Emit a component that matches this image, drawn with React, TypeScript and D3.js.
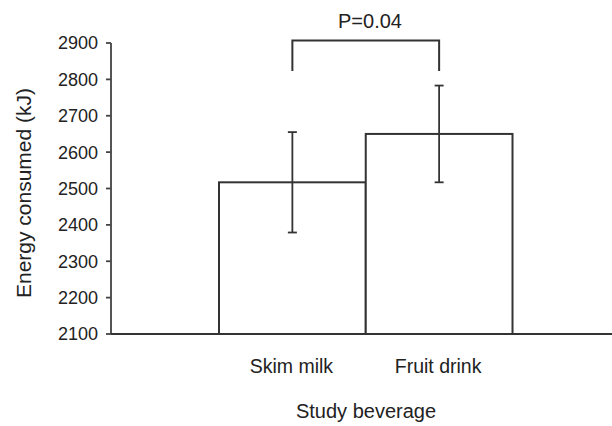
import React from "react";
import * as d3 from "d3";

const categories = ["Skim milk", "Fruit drink"];
const means = [2517, 2650];
const errors = [138, 133];
const yTicks = [2100, 2200, 2300, 2400, 2500, 2600, 2700, 2800, 2900];
const pLabel = "P=0.04";
const xTitle = "Study beverage";
const yTitle = "Energy consumed (kJ)";

const W = 612;
const H = 426;
const axisX = 111;
const ink = "#333";
const font = "Liberation Sans, Arial, Helvetica, sans-serif";

export default function App() {
  const y = d3.scaleLinear().domain([2100, 2900]).range([334, 43]);
  const x = d3.scaleBand<string>().domain(categories).range([219, 512.5]).padding(0);
  const bw = x.bandwidth();
  const cx = (c: string) => (x(c) ?? 0) + bw / 2;
  const base = y(2100);

  // significance bracket sits above the taller bar's error bar
  const bracketTop = 40.5;
  const bracketBottom = 71;

  return (
    <svg width={W} height={H} style={{ display: "block", position: "absolute", left: 0, top: 0 }}
      fontFamily={font}>
      <rect width={W} height={H} fill="#fff" />
      {/* bars */}
      {categories.map((c, i) => (
        <rect key={c} x={x(c)} y={y(means[i])} width={bw} height={base - y(means[i])}
          fill="#fff" stroke={ink} strokeWidth={2} />
      ))}
      {/* error bars */}
      {categories.map((c, i) => {
        const hi = y(means[i] + errors[i]);
        const lo = y(means[i] - errors[i]);
        return (
          <g key={c} stroke={ink} strokeWidth={1.8}>
            <line x1={cx(c)} x2={cx(c)} y1={hi} y2={lo} />
            <line x1={cx(c) - 4.5} x2={cx(c) + 4.5} y1={hi} y2={hi} />
            <line x1={cx(c) - 4.5} x2={cx(c) + 4.5} y1={lo} y2={lo} />
          </g>
        );
      })}
      {/* y axis */}
      <line x1={axisX} x2={axisX} y1={y(2900)} y2={base} stroke="#555" strokeWidth={2} />
      {yTicks.map((t) => (
        <g key={t}>
          <line x1={axisX - 5} x2={axisX} y1={y(t)} y2={y(t)} stroke="#444" strokeWidth={1.8} />
          <text x={98} y={y(t)} dy="0.36em" textAnchor="end" fontSize={18} fill="#222">{t}</text>
        </g>
      ))}
      {/* x axis */}
      <line x1={axisX} x2={W} y1={base} y2={base} stroke={ink} strokeWidth={2} />
      {categories.map((c) => (
        <text key={c} x={cx(c) - 1} y={373} textAnchor="middle" fontSize={19.5} fill="#222">{c}</text>
      ))}
      <text x={366} y={418} textAnchor="middle" fontSize={20} fill="#222">{xTitle}</text>
      <text transform={`translate(31,193) rotate(-90)`} textAnchor="middle" fontSize={21} fill="#222">{yTitle}</text>
      {/* significance bracket */}
      <path d={`M${cx(categories[0])},${bracketBottom}V${bracketTop}H${cx(categories[1])}V${bracketBottom}`}
        fill="none" stroke={ink} strokeWidth={2} />
      <text x={370} y={28} textAnchor="middle" fontSize={20} fill="#222">{pLabel}</text>
    </svg>
  );
}
